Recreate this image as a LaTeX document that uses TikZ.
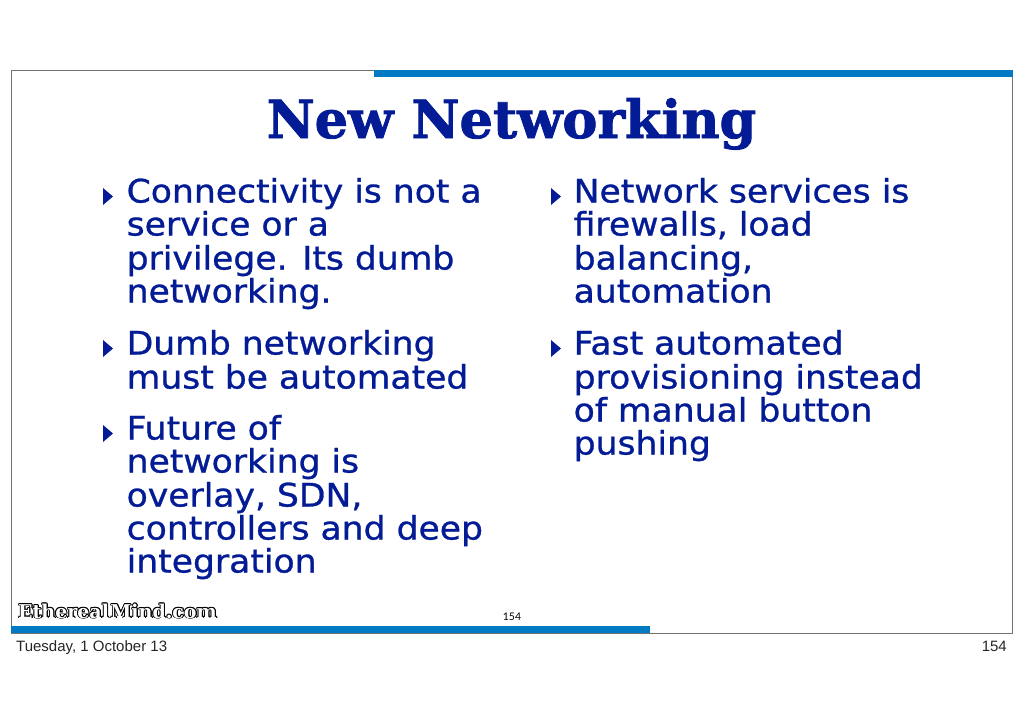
\documentclass[tikz,border=0pt]{standalone}
\usepackage{fontspec}
\setmainfont{DejaVu Sans}[FakeBold=0.9,FakeStretch=1.07]
\newfontfamily\titlefont{DejaVu Serif Bold}[FakeBold=1.6]
\newfontfamily\logofont{DejaVu Serif Bold}
\newfontfamily\footfont{Liberation Sans}
\newfontfamily\pagefont{Lato}
\definecolor{navy}{RGB}{3,27,148}
\definecolor{barblue}{RGB}{0,122,195}
\tikzset{
  x=1pt,y=-1pt,
  body/.style={anchor=base west,inner sep=0pt,text=navy,font=\fontsize{32.3}{33}\selectfont},
  foot/.style={inner sep=0pt,text=black!85,font=\footfont\fontsize{15}{16}\selectfont},
  bar/.style={fill=barblue,draw=none},
  bul/.style={fill=navy,draw=none},
}
\newcommand{\bult}[2]{\fill[bul] (#1,#2-6) -- (#1+10,#2+2.5) -- (#1,#2+11) -- cycle;}
\newcommand{\logotext}{\logofont\fontsize{19}{20}\selectfont Ethereal\hspace{1.5pt}Mind.com}
\begin{document}
\begin{tikzpicture}
\useasboundingbox (0,0) rectangle (1024,724);
\fill[white] (0,0) rectangle (1024,724);
\draw[black!55,line width=1pt] (11.5,70) rectangle (1012.5,633);
\fill[bar] (374,70) rectangle (1013,77);
\fill[bar] (11,626) rectangle (650,633);
\node[anchor=base,inner sep=0pt,text=navy,font=\titlefont\fontsize{52.5}{54}\selectfont] (title) at (511.5,138) {New Networking};
\node[body] (l1) at (126.5,202.5) {Connectivity is not a};
\node[body] (l2) at (126.5,235.5) {service or a};
\node[body] (l3) at (126.5,269.5) {privilege. Its dumb};
\node[body] (l4) at (126.5,302.5) {networking.};
\node[body] (l5) at (126.5,354.5) {Dumb networking};
\node[body] (l6) at (126.5,388.5) {must be automated};
\node[body] (l7) at (126.5,439.5) {Future of};
\node[body] (l8) at (126.5,472.5) {networking is};
\node[body] (l9) at (126.5,506.5) {overlay, SDN,};
\node[body] (l10) at (126.5,539.5) {controllers and deep};
\node[body] (l11) at (126.5,572.5) {integration};
\node[body] (r1) at (573.5,202.5) {Network services is};
\node[body] (r2) at (573.5,235.5) {firewalls, load};
\node[body] (r3) at (573.5,269.5) {balancing,};
\node[body] (r4) at (573.5,302.5) {automation};
\node[body] (r5) at (573.5,354.5) {Fast automated};
\node[body] (r6) at (573.5,388.5) {provisioning instead};
\node[body] (r7) at (573.5,421.5) {of manual button};
\node[body] (r8) at (573.5,454.5) {pushing};
\bult{103}{194}
\bult{103}{346}
\bult{103}{431}
\bult{551}{194}
\bult{551}{346}
\foreach \dx/\dy in {-.8/0,.8/0,0/-.8,0/.8,-.7/-.7,.7/-.7,-.7/.7,.7/.7,1.1/.9}
  \node[anchor=base west,inner sep=0pt,text=black] at (18+\dx,618+\dy) {\logotext};
\node[anchor=base west,inner sep=0pt,text=white] (logo) at (18,618) {\logotext};
\node[anchor=base,inner sep=0pt,text=black,font=\pagefont\fontsize{10.5}{11}\selectfont] (pg) at (512,620) {154};
\node[foot,anchor=base west] (date) at (16,651) {Tuesday, 1 October 13};
\node[foot,anchor=base east] (num) at (1007,651) {154};
\end{tikzpicture}
\end{document}
